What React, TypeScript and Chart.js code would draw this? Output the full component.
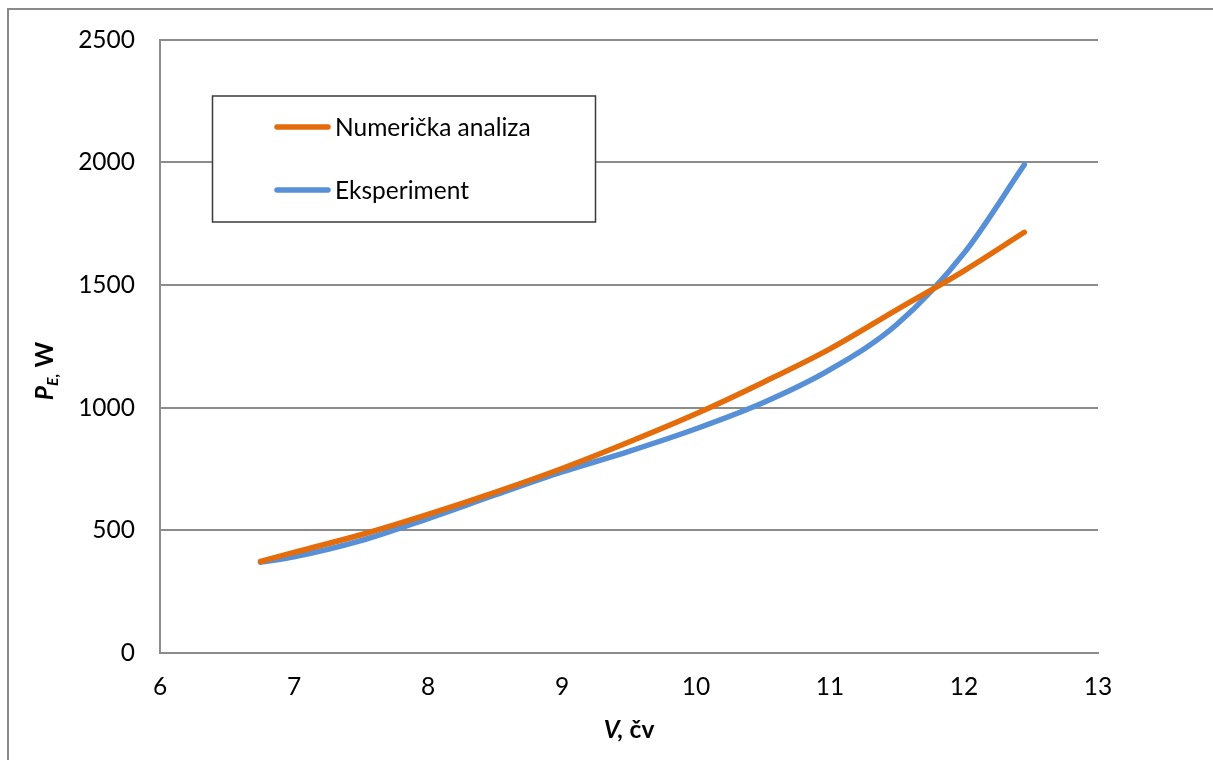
import React, { useEffect, useRef } from "react";
import { Chart, registerables } from "chart.js";

Chart.register(...registerables);

// ---- data ----
const seriesLabels = ["Numerička analiza", "Eksperiment"];
const speedNumeric = [6.75, 7, 7.5, 8, 8.5, 9, 9.5, 10, 10.5, 11, 11.5, 12, 12.45];
const powerNumeric = [373, 410, 482, 565, 655, 752, 860, 975, 1103, 1240, 1400, 1558, 1715];
const speedExperiment = [6.75, 7, 7.5, 8, 8.5, 9, 9.5, 10, 10.5, 11, 11.5, 12, 12.45];
const powerExperiment = [370, 392, 458, 548, 644, 738, 822, 914, 1020, 1155, 1340, 1630, 1990];
const xTickValues = [6, 7, 8, 9, 10, 11, 12, 13];
const yTickValues = [0, 500, 1000, 1500, 2000, 2500];
const seriesColors = ["#E46C0A", "#5890D8"];

const FONT = "Lato, 'Open Sans', sans-serif";
const FS = 24.5;

const toPoints = (xs: number[], ys: number[]) => xs.map((x, i) => ({ x, y: ys[i] }));

const framePlugin = {
  id: "frame",
  beforeDraw(chart: any) {
    const ctx = chart.ctx;
    ctx.save();
    ctx.fillStyle = "#ffffff";
    ctx.fillRect(0, 0, chart.width, chart.height);
    ctx.strokeStyle = "#8a8a8a";
    ctx.lineWidth = 2;
    ctx.strokeRect(8, 9, chart.width + 100, chart.height + 100);
    ctx.restore();
  },
};

const legendPlugin = {
  id: "boxLegend",
  afterDraw(chart: any) {
    const ctx = chart.ctx;
    const bx = 212.5, by = 96, bw = 383, bh = 126;
    ctx.save();
    ctx.fillStyle = "#ffffff";
    ctx.fillRect(bx, by, bw, bh);
    ctx.strokeStyle = "#3a3a3a";
    ctx.lineWidth = 1.5;
    ctx.strokeRect(bx, by, bw, bh);
    const rows = [127, 190];
    chart.data.datasets.forEach((ds: any, i: number) => {
      const y = rows[i];
      ctx.strokeStyle = ds.borderColor;
      ctx.lineWidth = 5.5;
      ctx.lineCap = "round";
      ctx.beginPath();
      ctx.moveTo(277, y);
      ctx.lineTo(328, y);
      ctx.stroke();
      ctx.fillStyle = "#000";
      ctx.font = `${FS}px ${FONT}`;
      ctx.textBaseline = "middle";
      ctx.textAlign = "left";
      ctx.fillText(ds.label, 335, y + 1);
    });
    ctx.restore();
  },
};

const titlesPlugin = {
  id: "axisTitles",
  afterDraw(chart: any) {
    const ctx = chart.ctx;
    ctx.save();
    ctx.fillStyle = "#000";
    ctx.textBaseline = "alphabetic";
    ctx.textAlign = "left";
    const big = `italic bold ${FS}px ${FONT}`;
    const sub = `italic bold 16px ${FONT}`;
    const reg = `bold ${FS}px ${FONT}`;
    // Y title: P_E, W
    ctx.font = big;
    const wP = ctx.measureText("P").width;
    ctx.font = sub;
    const wE = ctx.measureText("E,").width;
    ctx.font = reg;
    const wW = ctx.measureText(" W").width;
    const total = wP + wE + wW;
    ctx.translate(53, 371);
    ctx.rotate(-Math.PI / 2);
    let x = -total / 2;
    ctx.font = big;
    ctx.fillText("P", x, 0);
    x += wP;
    ctx.font = sub;
    ctx.fillText("E,", x, 5);
    x += wE;
    ctx.font = reg;
    ctx.fillText(" W", x, 0);
    ctx.setTransform(1, 0, 0, 1, 0, 0);
    // X title: V, čv
    ctx.font = big;
    const wV = ctx.measureText("V,").width;
    ctx.font = reg;
    const wR = ctx.measureText(" čv").width;
    const x2 = 629 - (wV + wR) / 2;
    ctx.font = big;
    ctx.fillText("V,", x2, 738);
    ctx.font = reg;
    ctx.fillText(" čv", x2 + wV, 738);
    ctx.restore();
  },
};

export default function App() {
  const ref = useRef<HTMLCanvasElement | null>(null);
  useEffect(() => {
    if (!ref.current) return;
    const common = {
      borderWidth: 5.5,
      pointRadius: 0,
      cubicInterpolationMode: "monotone",
      borderCapStyle: "round",
      borderJoinStyle: "round",
    };
    const chart = new Chart(ref.current, {
      type: "line",
      data: {
        datasets: [
          {
            label: seriesLabels[0],
            data: toPoints(speedNumeric, powerNumeric),
            borderColor: seriesColors[0],
            backgroundColor: seriesColors[0],
            ...common,
          },
          {
            label: seriesLabels[1],
            data: toPoints(speedExperiment, powerExperiment),
            borderColor: seriesColors[1],
            backgroundColor: seriesColors[1],
            ...common,
          },
        ],
      },
      options: {
        animation: false,
        responsive: false,
        devicePixelRatio: 1,
        layout: { padding: { left: 0, top: 38, right: 115, bottom: 0 } },
        plugins: { legend: { display: false }, tooltip: { enabled: false } },
        scales: {
          x: {
            type: "linear",
            min: xTickValues[0],
            max: xTickValues[xTickValues.length - 1],
            afterBuildTicks: (s: any) => {
              s.ticks = xTickValues.map((v) => ({ value: v }));
            },
            afterFit: (s: any) => {
              s.height = 107;
            },
            grid: { display: false, drawTicks: false },
            border: { display: true, color: "#8c8c8c", width: 2 },
            ticks: {
              padding: 19,
              color: "#000",
              font: { family: FONT, size: FS },
              maxRotation: 0,
              callback: (v: any) => String(v),
            },
          },
          y: {
            type: "linear",
            min: yTickValues[0],
            max: yTickValues[yTickValues.length - 1],
            afterBuildTicks: (s: any) => {
              s.ticks = yTickValues.map((v) => ({ value: v }));
            },
            afterFit: (s: any) => {
              s.width = 160;
            },
            grid: { color: "#8c8c8c", lineWidth: 2, drawTicks: false },
            border: { display: true, color: "#8c8c8c", width: 2 },
            ticks: {
              padding: 25,
              color: "#000",
              font: { family: FONT, size: FS },
              callback: (v: any) => String(v),
            },
          },
        },
      },
      plugins: [framePlugin, legendPlugin, titlesPlugin],
    } as any);
    return () => chart.destroy();
  }, []);
  return (
    <div style={{ position: "absolute", left: 0, top: 0, width: 1213, height: 760 }}>
      <canvas ref={ref} width={1213} height={760} style={{ width: 1213, height: 760, display: "block" }} />
    </div>
  );
}
